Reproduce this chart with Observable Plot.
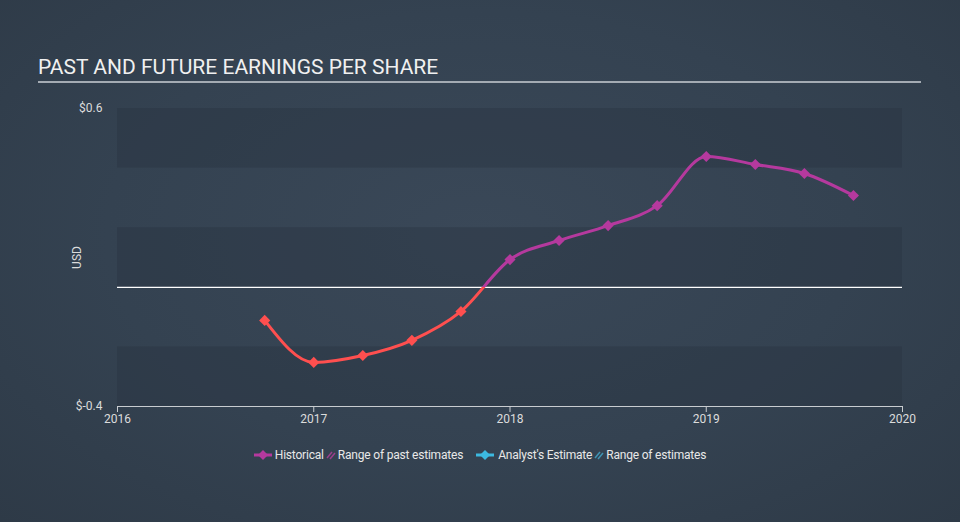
<!DOCTYPE html>
<html>
<head>
<meta charset="utf-8">
<script src="https://cdn.jsdelivr.net/npm/d3@7"></script>
<script src="https://cdn.jsdelivr.net/npm/@observablehq/plot@0.6"></script>
<style>
  html, body { margin: 0; padding: 0; }
  body {
    width: 960px; height: 522px; overflow: hidden; position: relative;
    background: radial-gradient(ellipse at 50% 45%, #3a4858 0%, #344251 55%, #2e3a47 100%);
    font-family: Roboto, "Noto Sans", sans-serif;
  }
  #title {
    position: absolute; left: 38px; top: 55px; font-size: 21px; color: #f0f0f0;
    letter-spacing: 0px; white-space: nowrap;
  }
  #rule { position: absolute; left: 38px; top: 81px; width: 883px; height: 2px; background: #a4abb3; }
  #chart { position: absolute; left: 0; top: 0; }
  #legend {
    position: absolute; top: 448px; left: 0; width: 960px; display: flex; justify-content: center;
    font-size: 12px; color: #e8e8e8; align-items: center; white-space: nowrap; letter-spacing: -0.2px;
  }
  #legend .item { display: flex; align-items: center; }
  #legend svg { display: block; }
</style>
</head>
<body>
<div id="title">PAST AND FUTURE EARNINGS PER SHARE</div>
<div id="rule"></div>
<div id="chart"></div>
<div id="legend"></div>
<script>
// Data
const quarters = [2016.75, 2017.0, 2017.25, 2017.5, 2017.75, 2018.0, 2018.25, 2018.5, 2018.75, 2019.0, 2019.25, 2019.5, 2019.75];
const eps = [-0.111, -0.252, -0.229, -0.178, -0.081, 0.093, 0.157, 0.207, 0.274, 0.439, 0.412, 0.382, 0.308];
const xTicks = [2016, 2017, 2018, 2019, 2020];
const yTicks = [-0.4, 0.6];
const bandLow = [0.4, 0.0, -0.4];
const bandHigh = [0.6, 0.2, -0.2];
const legendLabels = ["Historical", "Range of past estimates", "Analyst's Estimate", "Range of estimates"];

const purple = "#b5399e";
const red = "#ff4f4f";
const blue = "#3cb9e0";

const points = quarters.map((q, i) => ({q, v: eps[i]}));
const bands = bandLow.map((lo, i) => ({lo, hi: bandHigh[i]}));

function gradientDefs(index, scales, values, dims) {
  const ns = "http://www.w3.org/2000/svg";
  const g = document.createElementNS(ns, "g");
  const z = scales.y(0) / dims.height;
  g.innerHTML = `<defs><linearGradient id="epsGrad" gradientUnits="userSpaceOnUse" x1="0" y1="0" x2="0" y2="${dims.height}">
    <stop offset="0" stop-color="${purple}"/><stop offset="${z}" stop-color="${purple}"/>
    <stop offset="${z}" stop-color="${red}"/><stop offset="1" stop-color="${red}"/></linearGradient></defs>`;
  return g;
}

const chart = Plot.plot({
  width: 960,
  height: 522,
  marginTop: 108,
  marginBottom: 116,
  marginLeft: 117,
  marginRight: 58,
  style: {background: "transparent", color: "#dcdcdc", fontSize: "12px", fontFamily: "Roboto, sans-serif"},
  x: {domain: [2016, 2020], axis: null, label: null},
  y: {domain: [-0.4, 0.6], axis: null, label: null},
  marks: [
    gradientDefs,
    Plot.rectY(bands, {x1: 2016, x2: 2020, y1: "lo", y2: "hi", fill: "#27323e", fillOpacity: 0.38}),
    Plot.ruleY([0], {stroke: "#ffffff", strokeWidth: 1.2}),
    Plot.ruleY([-0.4], {stroke: "#c8ccd0", strokeWidth: 1}),
    Plot.axisX({ticks: xTicks, tickFormat: d => String(d), tickSize: 6, tickPadding: 2, stroke: "#c8ccd0", color: "#dcdcdc", anchor: "bottom", fontSize: 12, label: null}),
    Plot.text(yTicks, {x: 2016, y: d => d, text: d => "$" + d, textAnchor: "end", dx: -15, fill: "#dcdcdc", fontSize: 12}),
    Plot.text(["USD"], {x: 2016, y: 0.1, text: d => d, rotate: -90, dx: -40, fill: "#dcdcdc", fontSize: 12}),
    Plot.line(points, {x: "q", y: "v", curve: "monotone-x", stroke: "url(#epsGrad)", strokeWidth: 3}),
    Plot.dot(points, {x: "q", y: "v", symbol: "diamond2", r: 5, fill: d => d.v < 0 ? red : purple, stroke: "none"})
  ]
});
document.getElementById("chart").appendChild(chart);

// Legend
function lineIcon(color) {
  return `<svg width="18" height="12"><line x1="0" y1="6" x2="18" y2="6" stroke="${color}" stroke-width="3"/><path d="M9 1 L14 6 L9 11 L4 6 Z" fill="${color}"/></svg>`;
}
function stripeIcon(color) {
  return `<svg width="10" height="10"><line x1="1" y1="8" x2="6" y2="2" stroke="${color}" stroke-width="1.5"/><line x1="4" y1="9" x2="9" y2="3" stroke="${color}" stroke-width="1.5"/></svg>`;
}
const legend = document.getElementById("legend");
legend.innerHTML = `
  <div class="item">${lineIcon(purple)}<span style="margin-left:3px">${legendLabels[0]}</span></div>
  <div class="item" style="margin-left:2px">${stripeIcon("#9a3f8c")}<span style="margin-left:2px">${legendLabels[1]}</span></div>
  <div class="item" style="margin-left:13px">${lineIcon(blue)}<span style="margin-left:4px">${legendLabels[2]}</span></div>
  <div class="item" style="margin-left:2px">${stripeIcon("#3f95b5")}<span style="margin-left:2px">${legendLabels[3]}</span></div>
`;
</script>
</body>
</html>
